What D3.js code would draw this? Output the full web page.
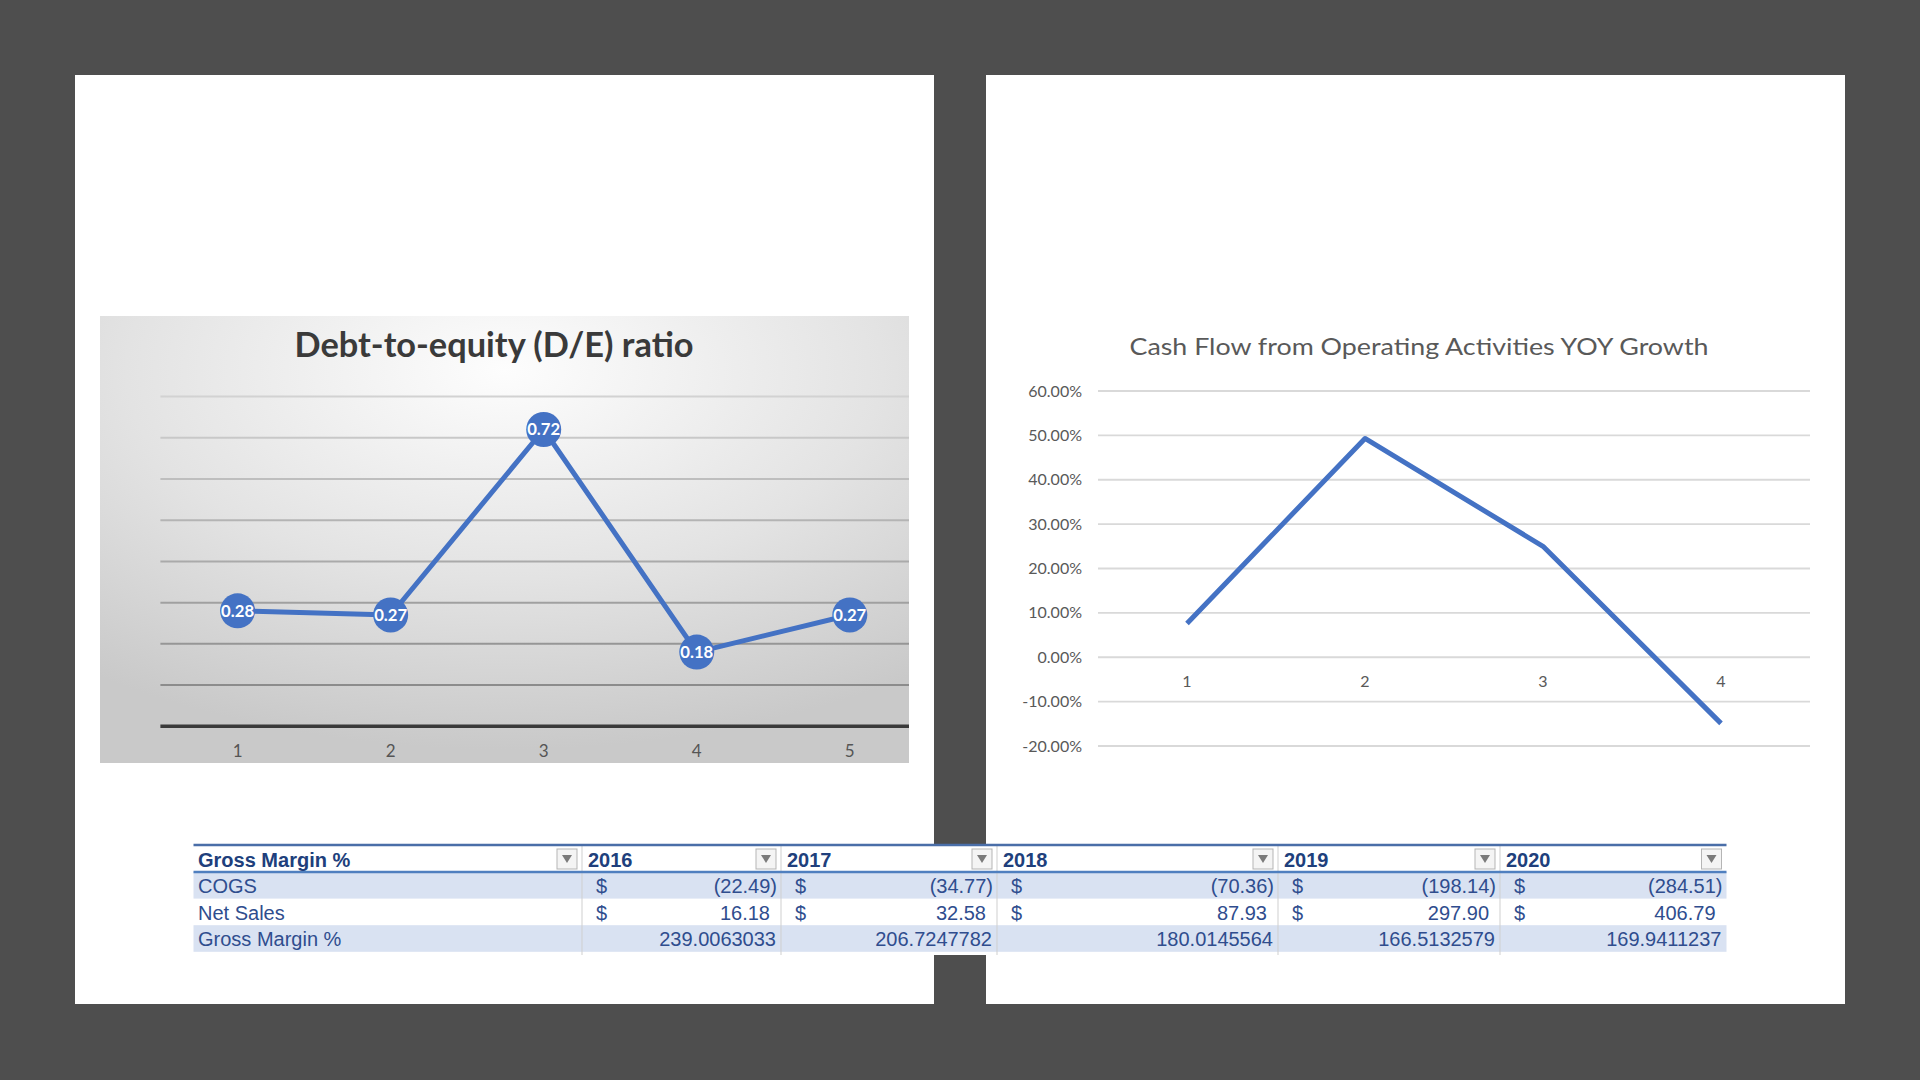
<!DOCTYPE html>
<html>
<head>
<meta charset="utf-8">
<script src="https://cdn.jsdelivr.net/npm/d3@7"></script>
<style>
  body{margin:0;background:#4e4e4e;}
  svg{display:block;}
</style>
</head>
<body>
<div id="chart"></div>
<script>
// D/E ratio chart data
const deCategories = [1, 2, 3, 4, 5];
const deValues = [0.28, 0.27, 0.72, 0.18, 0.27];

// Cash flow YOY growth data
const cfCategories = [1, 2, 3, 4];
const cfValues = [0.076, 0.493, 0.25, -0.149];
const cfTicks = [-0.2, -0.1, 0, 0.1, 0.2, 0.3, 0.4, 0.5, 0.6];

// Gross margin table data
const tableTitle = 'Gross Margin %';
const tableYears = ['2016', '2017', '2018', '2019', '2020'];
const rowLabels = ['COGS', 'Net Sales', 'Gross Margin %'];
const cogs = [-22.49, -34.77, -70.36, -198.14, -284.51];
const netSales = [16.18, 32.58, 87.93, 297.90, 406.79];
const grossMargin = [239.0063033, 206.7247782, 180.0145564, 166.5132579, 169.9411237];

(function(){
  const W = 1920, H = 1080;
  const blue = '#4472c4';
  const svg = d3.select('#chart').append('svg').attr('width', W).attr('height', H);
  svg.append('rect').attr('width', W).attr('height', H).attr('fill', '#4e4e4e');

  // white pages
  svg.append('rect').attr('x', 75).attr('y', 75).attr('width', 859).attr('height', 929).attr('fill', '#fff');
  svg.append('rect').attr('x', 986).attr('y', 75).attr('width', 859).attr('height', 929).attr('fill', '#fff');

  const defs = svg.append('defs');
  const grad = defs.append('radialGradient').attr('id', 'deBg')
    .attr('cx', '50%').attr('cy', '12%').attr('r', '85%');
  grad.append('stop').attr('offset', '0%').attr('stop-color', '#fdfdfd');
  grad.append('stop').attr('offset', '55%').attr('stop-color', '#e3e3e3');
  grad.append('stop').attr('offset', '100%').attr('stop-color', '#c9c9c9');
  defs.append('clipPath').attr('id', 'deClip')
    .append('rect').attr('x', 100).attr('y', 316).attr('width', 809).attr('height', 447);

  // ---- Debt-to-equity chart ----
  const de = svg.append('g').attr('clip-path', 'url(#deClip)');
  de.append('rect').attr('x', 100).attr('y', 316).attr('width', 809).attr('height', 447).attr('fill', 'url(#deBg)');
  de.append('text').attr('x', 494).attr('y', 357).attr('text-anchor', 'middle')
    .attr('font-family', 'Lato, sans-serif').attr('font-weight', 700).attr('font-size', 34)
    .attr('fill', '#3a3a3a').attr('textLength', 399).attr('lengthAdjust', 'spacingAndGlyphs')
    .text('Debt-to-equity (D/E) ratio');

  const dx = d3.scalePoint().domain(deCategories).range([237.6, 849.8]);
  const dy = d3.scaleLinear().domain([0, 0.8]).range([726.3, 396.5]);
  const gridX0 = 160.4, gridX1 = 909;
  const gridColor = d3.scaleLinear().domain([0.1, 0.8]).range(['#8c8c8c', '#d2d2d2']);

  de.selectAll('line.grid').data(dy.ticks(8).filter(t => t > 0)).enter().append('line')
    .attr('class', 'grid')
    .attr('x1', gridX0).attr('x2', gridX1)
    .attr('y1', d => dy(d)).attr('y2', d => dy(d))
    .attr('stroke', d => gridColor(d)).attr('stroke-width', 2);
  de.append('line').attr('x1', gridX0).attr('x2', gridX1)
    .attr('y1', dy(0)).attr('y2', dy(0)).attr('stroke', '#3a3a3a').attr('stroke-width', 3.5);

  de.selectAll('text.xl').data(deCategories).enter().append('text').attr('class', 'xl')
    .attr('x', d => dx(d)).attr('y', 757).attr('text-anchor', 'middle')
    .attr('font-family', 'Lato, sans-serif').attr('font-size', 17).attr('fill', '#555')
    .text(d => d);

  const deLine = d3.line().x((d, i) => dx(deCategories[i])).y(d => dy(d));
  de.append('path').datum(deValues).attr('fill', 'none').attr('stroke', blue)
    .attr('stroke-width', 5).attr('stroke-linejoin', 'round').attr('d', deLine);
  de.selectAll('circle').data(deValues).enter().append('circle')
    .attr('cx', (d, i) => dx(deCategories[i])).attr('cy', d => dy(d)).attr('r', 17.5)
    .attr('fill', blue);
  de.selectAll('text.lbl').data(deValues).enter().append('text').attr('class', 'lbl')
    .attr('x', (d, i) => dx(deCategories[i])).attr('y', d => dy(d) + 6)
    .attr('text-anchor', 'middle').attr('font-family', 'Lato, sans-serif')
    .attr('font-weight', 700).attr('font-size', 17).attr('fill', '#fff')
    .attr('textLength', 33).attr('lengthAdjust', 'spacingAndGlyphs')
    .text(d => d3.format('.2f')(d));

  // ---- Cash flow chart ----
  const cf = svg.append('g');
  cf.append('text').attr('x', 1419).attr('y', 355).attr('text-anchor', 'middle')
    .attr('font-family', 'Lato, sans-serif').attr('font-size', 24).attr('fill', '#595959')
    .attr('textLength', 579).attr('lengthAdjust', 'spacingAndGlyphs')
    .text('Cash Flow from Operating Activities YOY Growth');

  const cx = d3.scaleBand().domain(cfCategories).range([1098, 1810]);
  const cy = d3.scaleLinear().domain([-0.2, 0.6]).range([746, 391]);
  const pct = d => d3.format('.2%')(d).replace('\u2212', '-');

  cf.selectAll('line.grid').data(cfTicks).enter().append('line').attr('class', 'grid')
    .attr('x1', 1098).attr('x2', 1810)
    .attr('y1', d => cy(d)).attr('y2', d => cy(d))
    .attr('stroke', '#d9d9d9').attr('stroke-width', 1.8);
  cf.selectAll('text.yl').data(cfTicks).enter().append('text').attr('class', 'yl')
    .attr('x', 1082).attr('y', d => cy(d) + 5.5).attr('text-anchor', 'end')
    .attr('font-family', 'Lato, sans-serif').attr('font-size', 16).attr('fill', '#595959')
    .text(pct);
  cf.selectAll('text.xl').data(cfCategories).enter().append('text').attr('class', 'xl')
    .attr('x', d => cx(d) + cx.bandwidth() / 2).attr('y', cy(0) + 30).attr('text-anchor', 'middle')
    .attr('font-family', 'Lato, sans-serif').attr('font-size', 16).attr('fill', '#595959')
    .text(d => d);

  const cfLine = d3.line().x((d, i) => cx(cfCategories[i]) + cx.bandwidth() / 2).y(d => cy(d));
  cf.append('path').datum(cfValues).attr('fill', 'none').attr('stroke', blue)
    .attr('stroke-width', 5).attr('stroke-linejoin', 'round').attr('d', cfLine);

  // ---- Gross margin table ----
  const colEdges = [193.5, 582, 781, 997, 1278, 1500, 1726.5];
  const top = 845, headH = 27, rowH = 26.6;
  const tb = svg.append('g').attr('font-family', '"Liberation Sans", Arial, sans-serif');
  tb.append('rect').attr('x', colEdges[0]).attr('y', top).attr('width', colEdges[6] - colEdges[0])
    .attr('height', 110).attr('fill', '#fff');
  rowLabels.forEach((r, i) => {
    if (i % 2 === 0) {
      tb.append('rect').attr('x', colEdges[0]).attr('y', top + headH + i * rowH)
        .attr('width', colEdges[6] - colEdges[0]).attr('height', rowH).attr('fill', '#d9e2f2');
    }
  });
  // column separators
  tb.selectAll('line.sep').data(colEdges.slice(1, 6)).enter().append('line').attr('class', 'sep')
    .attr('x1', d => d).attr('x2', d => d).attr('y1', top).attr('y2', top + 110)
    .attr('stroke', '#cfcfcf').attr('stroke-width', 1);
  tb.append('line').attr('x1', colEdges[0]).attr('x2', colEdges[6]).attr('y1', top).attr('y2', top)
    .attr('stroke', '#4a6ea8').attr('stroke-width', 2.5);
  tb.append('line').attr('x1', colEdges[0]).attr('x2', colEdges[6]).attr('y1', top + headH).attr('y2', top + headH)
    .attr('stroke', '#4f7fbf').attr('stroke-width', 2.5);

  const headers = [tableTitle].concat(tableYears);
  headers.forEach((h, i) => {
    tb.append('text').attr('x', i === 0 ? 198 : colEdges[i] + 6).attr('y', top + 22)
      .attr('font-weight', 700).attr('font-size', 20).attr('fill', '#203f7c').text(h);
    const bx = colEdges[i + 1] - 25;
    tb.append('rect').attr('x', bx).attr('y', top + 4).attr('width', 20).attr('height', 20)
      .attr('fill', '#f4f4f4').attr('stroke', '#b5b5b5').attr('stroke-width', 1);
    tb.append('path').attr('d', `M${bx + 5},${top + 10} L${bx + 15},${top + 10} L${bx + 10},${top + 18} Z`)
      .attr('fill', '#7a7a7a');
  });

  const txtColor = '#2f4d8e';
  const fmt = d3.format(',.2f');
  rowLabels.forEach((r, ri) => {
    const base = top + headH + ri * rowH + 21;
    tb.append('text').attr('x', 198).attr('y', base).attr('font-size', 20).attr('fill', txtColor).text(r);
    const vals = ri === 0 ? cogs : ri === 1 ? netSales : grossMargin;
    vals.forEach((v, ci) => {
      const x0 = colEdges[ci + 1], x1 = colEdges[ci + 2];
      if (ri < 2) {
        tb.append('text').attr('x', x0 + 14).attr('y', base).attr('font-size', 20).attr('fill', txtColor).text('$');
        tb.append('text').attr('x', v < 0 ? x1 - 4 : x1 - 11).attr('y', base).attr('text-anchor', 'end')
          .attr('font-size', 20).attr('fill', txtColor)
          .text(v < 0 ? '(' + fmt(-v) + ')' : fmt(v));
      } else {
        tb.append('text').attr('x', x1 - 5).attr('y', base).attr('text-anchor', 'end')
          .attr('font-size', 20).attr('fill', txtColor).text(String(v));
      }
    });
  });
})();
</script>
</body>
</html>
